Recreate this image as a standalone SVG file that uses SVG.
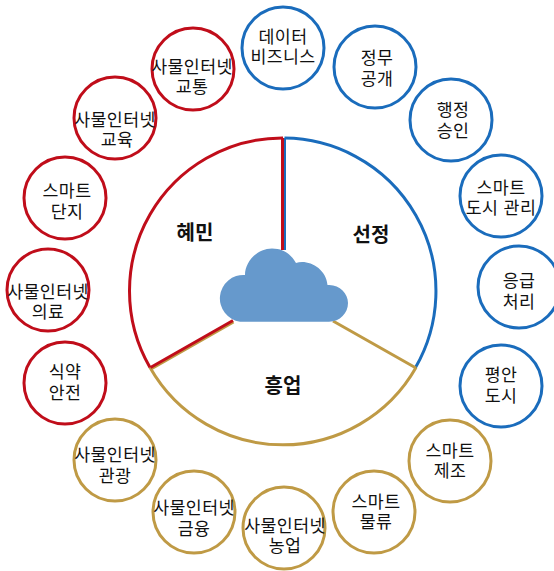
<svg xmlns="http://www.w3.org/2000/svg" width="554" height="571" viewBox="0 0 554 571">
<style>
text{font-family:"Liberation Sans","Noto Sans CJK KR",sans-serif;font-size:17.3px;letter-spacing:.4px;fill:#111;text-anchor:middle}
text.h{font-size:20px;letter-spacing:0;font-weight:700;fill:#111}
.n{fill:#fff;stroke-width:3}
.r{stroke:#c00d1a}.b{stroke:#1a6cbc}.g{stroke:#bf9a45}
.l{fill:none;stroke-width:3}
</style>
<rect width="554" height="571" fill="#fff"/>
<g id="connectors">
<path class="l b" d="M284.500 138.100A153 153 0 0 1 415.500 367.500"/>
<path class="l b" d="M284.500 138V250"/>
<path class="l g" d="M416 367.500A153 153 0 0 1 150 367.500"/>
<path class="l g" d="M333 321L416 368M233.500 322L151 369"/>
<path class="l r" d="M150 367.500A153 153 0 0 1 283 138"/>
<path class="l r" d="M282.500 138V250M233 320.500L150.500 367.500"/>
</g>
<g id="cloud"><path fill="#6699cc" d="M240 321.700A23.500 23.500 0 0 1 245 275C245 262 257 248.500 272 248.500C283 248.500 291 254 296 263C308 259 326 268 327.500 285C339 284 348 293 348 303C348 313 340 321.700 329 321.700Z"/></g>
<g id="hub-labels">
<text class="h" x="195" y="240">혜민</text>
<text class="h" x="371" y="242">선정</text>
<text class="h" x="283" y="393">흥업</text>
</g>
<g id="n1"><circle class="n b" cx="283" cy="48" r="41"/><text y="43"><tspan x="283">데이터</tspan><tspan x="283" dy="20">비즈니스</tspan></text></g>
<g id="n2"><circle class="n b" cx="375" cy="67" r="41"/><text y="64"><tspan x="377">정무</tspan><tspan x="377" dy="21">공개</tspan></text></g>
<g id="n3"><circle class="n b" cx="451" cy="120" r="41"/><text y="116"><tspan x="453">행정</tspan><tspan x="453" dy="21">승인</tspan></text></g>
<g id="n4"><circle class="n b" cx="501" cy="196" r="41"/><text y="194"><tspan x="501">스마트</tspan><tspan x="501" dy="20">도시 관리</tspan></text></g>
<g id="n5"><circle class="n b" cx="519" cy="287" r="41"/><text y="287"><tspan x="519">응급</tspan><tspan x="519" dy="21">처리</tspan></text></g>
<g id="n6"><circle class="n b" cx="501" cy="386" r="41"/><text y="381"><tspan x="501">평안</tspan><tspan x="501" dy="21">도시</tspan></text></g>
<g id="n7"><circle class="n g" cx="450" cy="461" r="41"/><text y="457"><tspan x="450">스마트</tspan><tspan x="450" dy="20">제조</tspan></text></g>
<g id="n8"><circle class="n g" cx="374" cy="512" r="41"/><text y="508"><tspan x="376">스마트</tspan><tspan x="376" dy="20">물류</tspan></text></g>
<g id="n9"><circle class="n g" cx="284" cy="528" r="41"/><text y="532"><tspan x="285">사물인터넷</tspan><tspan x="285" dy="20">농업</tspan></text></g>
<g id="n10"><circle class="n g" cx="194" cy="512" r="41"/><text y="514"><tspan x="194">사물인터넷</tspan><tspan x="194" dy="21">금융</tspan></text></g>
<g id="n11"><circle class="n g" cx="115" cy="460" r="41"/><text y="461"><tspan x="115">사물인터넷</tspan><tspan x="115" dy="21">관광</tspan></text></g>
<g id="n12"><circle class="n r" cx="65" cy="383" r="41"/><text y="378"><tspan x="65">식약</tspan><tspan x="65" dy="21">안전</tspan></text></g>
<g id="n13"><circle class="n r" cx="48" cy="290" r="41"/><text y="298"><tspan x="48">사물인터넷</tspan><tspan x="48" dy="20">의료</tspan></text></g>
<g id="n14"><circle class="n r" cx="65" cy="198" r="41"/><text y="197"><tspan x="67">스마트</tspan><tspan x="67" dy="21">단지</tspan></text></g>
<g id="n15"><circle class="n r" cx="115" cy="118" r="41"/><text y="126"><tspan x="115">사물인터넷</tspan><tspan x="117" dy="20">교육</tspan></text></g>
<g id="n16"><circle class="n r" cx="193" cy="69" r="41"/><text y="73"><tspan x="192">사물인터넷</tspan><tspan x="192" dy="20">교통</tspan></text></g>
</svg>
